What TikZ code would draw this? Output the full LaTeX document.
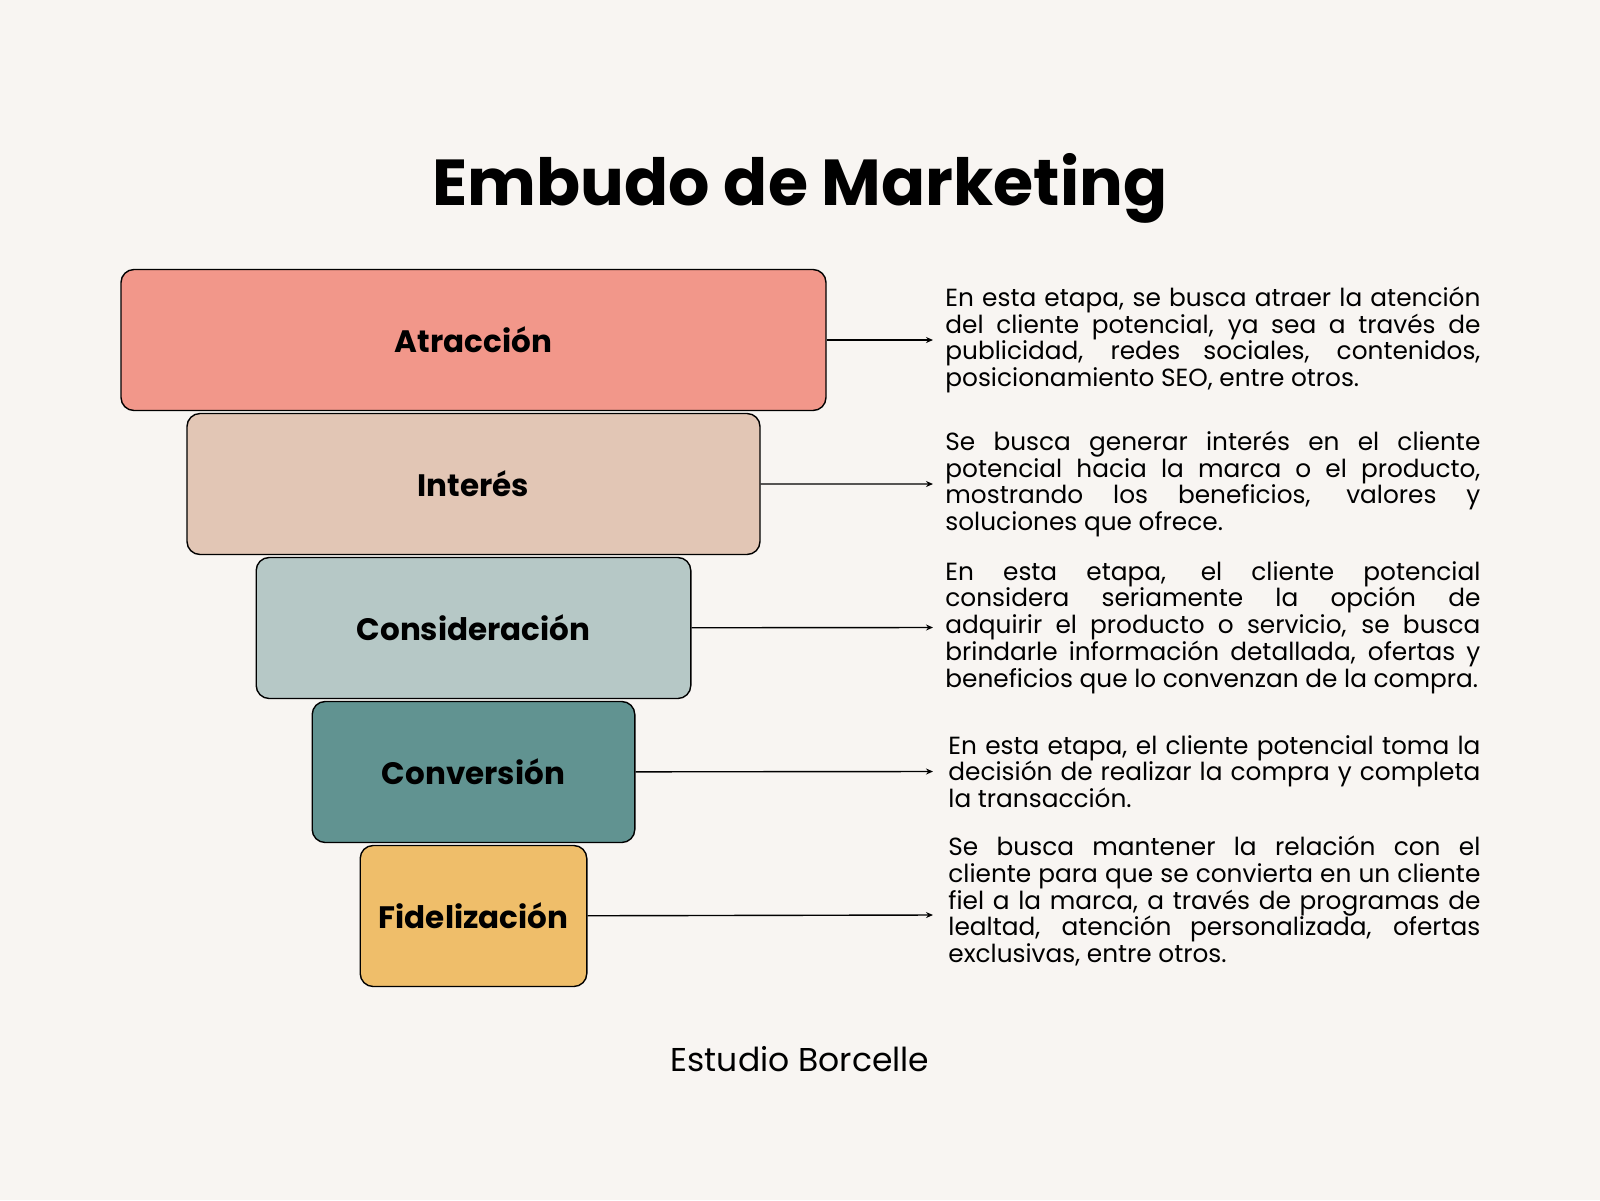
\documentclass[tikz,border=0pt]{standalone}
\usepackage{fontspec}
\setmainfont{Poppins}
\usetikzlibrary{positioning,arrows.meta}
\definecolor{fondo}{HTML}{F8F5F2}
\definecolor{salmon}{HTML}{F2978A}
\definecolor{arena}{HTML}{E2C6B5}
\definecolor{gris}{HTML}{B6C8C6}
\definecolor{verde}{HTML}{619391}
\definecolor{mostaza}{HTML}{EFBE6A}

\begin{document}
\begin{tikzpicture}[x=0.5pt, y=-0.5pt, node distance=0.8pt,
  stage/.style={rectangle, draw, line width=0.7pt, rounded corners=6.5pt, minimum height=70.5pt, font=\bfseries\fontsize{15.5}{18}\selectfont},
  desc/.style={anchor=west, text width=267.5pt, align=justify, inner sep=0pt, font=\fontsize{12.4}{13.4}\selectfont},
  link/.style={-{Stealth[length=3.5pt,width=3pt]}, line width=0.7pt}]
  \fill[fondo] (0,0) rectangle (1600,1200);
  \node (titulo) at (800,205) [anchor=base, font=\bfseries\fontsize{32.5}{38}\selectfont] {Embudo de Marketing};
  % funnel stages
  \node (atraccion) at (473.5,340) [stage, fill=salmon, minimum width=352.5pt] {Atracción};
  \node (interes) [below=of atraccion, stage, fill=arena, minimum width=286.5pt] {Interés};
  \node (consideracion) [below=of interes, stage, fill=gris, minimum width=217.3pt] {Consideración};
  \node (conversion) [below=of consideracion, stage, fill=verde, minimum width=161.3pt] {Conversión};
  \node (fidelizacion) [below=of conversion, stage, fill=mostaza, minimum width=113.3pt] {Fidelización};
  % arrow ends
  \coordinate (p1) at (933,340);
  \coordinate (p2) at (933,484);
  \coordinate (p3) at (933,627.5);
  \coordinate (p4) at (933,771.5);
  \coordinate (p5) at (933,915);
  % descriptions
  \node (d1) at (945,340) [desc] {En esta etapa, se busca atraer la atención\linebreak del cliente potencial, ya sea a través de\linebreak publicidad, redes sociales, contenidos,\linebreak posicionamiento SEO, entre otros.};
  \node (d2) at (945,484) [desc] {Se busca generar interés en el cliente\linebreak potencial hacia la marca o el producto,\linebreak mostrando los beneficios, valores y\linebreak soluciones que ofrece.};
  \node (d3) at (945,627.5) [desc] {En esta etapa, el cliente potencial\linebreak considera seriamente la opción de\linebreak adquirir el producto o servicio, se busca\linebreak brindarle información detallada, ofertas y\linebreak beneficios que lo convenzan de la compra.};
  \node (d4) at (948,771.5) [desc, text width=266pt] {En esta etapa, el cliente potencial toma la\linebreak decisión de realizar la compra y completa\linebreak la transacción.};
  \node (d5) at (948,901) [desc, text width=266pt] {Se busca mantener la relación con el\linebreak cliente para que se convierta en un cliente\linebreak fiel a la marca, a través de programas de\linebreak lealtad, atención personalizada, ofertas\linebreak exclusivas, entre otros.};
  \draw[link] (atraccion) -- (p1);
  \draw[link] (interes) -- (p2);
  \draw[link] (consideracion) -- (p3);
  \draw[link] (conversion) -- (p4);
  \draw[link] (fidelizacion) -- (p5);
  \node (firma) at (800,1071) [anchor=base, font=\fontsize{16.5}{20}\selectfont] {Estudio Borcelle};
\end{tikzpicture}
\end{document}
